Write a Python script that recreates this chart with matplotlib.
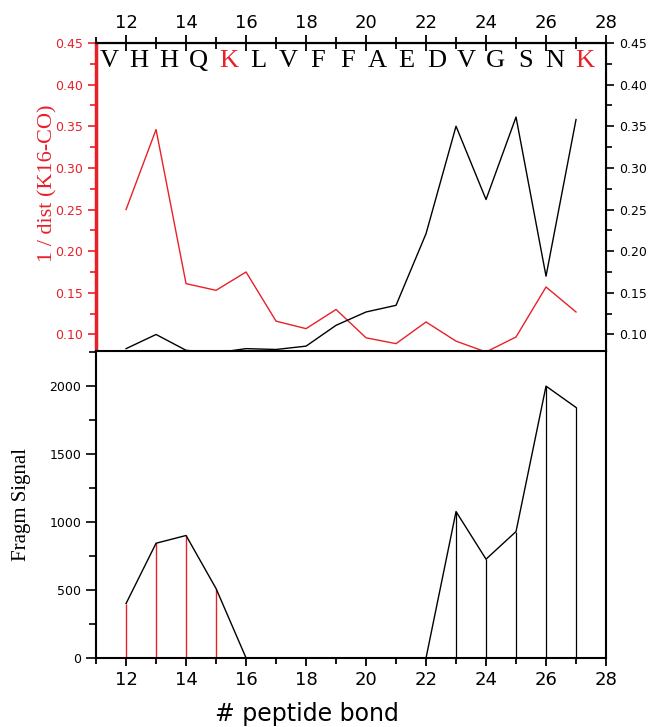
import numpy as np
import matplotlib.pyplot as plt
from matplotlib.ticker import MultipleLocator, FixedLocator

# liaisons peptidiques
bonds = [12, 13, 14, 15, 16, 17, 18, 19, 20, 21, 22, 23, 24, 25, 26, 27]

# 1 / distance (K16-CO) et (K28-CO)
inv_dist_k16 = [0.250, 0.346, 0.161, 0.153, 0.175, 0.116, 0.107, 0.130,
                0.096, 0.089, 0.115, 0.092, 0.079, 0.097, 0.157, 0.127]
inv_dist_k28 = [0.083, 0.100, 0.081, 0.078, 0.083, 0.082, 0.086, 0.111,
                0.127, 0.135, 0.221, 0.350, 0.262, 0.361, 0.170, 0.358]

# signal des fragments
fragm = [400, 843, 900, 510, 0, 0, 0, 0, 0, 0, 0, 1076, 726, 929, 1998, 1841]

# sequence
seq = ["V", "H", "H", "Q", "K", "L", "V", "F", "F", "A", "E", "D", "V", "G", "S", "N", "K"]
seq_red = [4, 16]

RED = "#e8202a"
serif = "Liberation Serif"

fig = plt.figure(figsize=(6.58, 7.27), dpi=100)
ax1 = fig.add_axes([0.146, 0.517, 0.775, 0.424])
ax2 = fig.add_axes([0.146, 0.095, 0.775, 0.422])

############################################
# panneau du haut
ax1.plot(bonds, inv_dist_k16, color=RED, lw=1.0)
ax1r = ax1.twinx()
ax1r.plot(bonds, inv_dist_k28, color="black", lw=1.0)

for a in (ax1, ax1r):
    a.set_xlim(11, 28)
    a.set_ylim(0.08, 0.45)
    a.yaxis.set_major_locator(MultipleLocator(0.05))
    a.yaxis.set_minor_locator(MultipleLocator(0.025))

# ticks du bas (vers le bas, sans labels)
ax1.xaxis.set_major_locator(MultipleLocator(2))
ax1.xaxis.set_minor_locator(MultipleLocator(1))
ax1.tick_params(axis="x", which="both", top=False, bottom=True,
                labelbottom=False, direction="out", width=1.3)
ax1.tick_params(axis="x", which="major", length=6)
ax1.tick_params(axis="x", which="minor", length=5)

# axe du haut
top = ax1.secondary_xaxis("top")
top.xaxis.set_major_locator(FixedLocator(range(12, 29, 2)))
top.xaxis.set_minor_locator(FixedLocator(range(11, 29, 2)))
top.tick_params(axis="x", which="both", direction="inout", width=1.3)
top.tick_params(axis="x", which="major", length=12, labelsize=13, pad=2)
top.tick_params(axis="x", which="minor", length=8)
top.spines["top"].set_linewidth(1.5)

ax1.tick_params(axis="y", which="both", colors=RED, labelsize=9, width=1.2)
ax1.tick_params(axis="y", which="major", length=6)
ax1.tick_params(axis="y", which="minor", length=4)
ax1.spines["left"].set_color(RED)
ax1.spines["left"].set_linewidth(2.5)
for s in ("top", "bottom"):
    ax1.spines[s].set_linewidth(1.5)
ax1.set_ylabel("1 / dist (K16-CO)", color=RED, family=serif, fontsize=16)
ax1.yaxis.set_label_coords(-0.076, 0.545)

ax1r.tick_params(axis="y", which="both", colors="black", labelsize=9, width=1.2)
ax1r.tick_params(axis="y", which="major", length=6)
ax1r.tick_params(axis="y", which="minor", length=4)
ax1r.spines["right"].set_linewidth(1.5)
ax1r.spines["left"].set_visible(False)

for i, lettre in enumerate(seq):
    xpos = 11.45 + i * 0.99
    col = RED if i in seq_red else "black"
    ax1.text(xpos, 0.428, lettre, color=col, family=serif, fontsize=19,
             ha="center", va="center")

############################################
# panneau du bas
ax2.vlines(bonds[:4], 0, fragm[:4], color=RED, lw=1.0)
ax2.vlines(bonds[11:], 0, fragm[11:], color="black", lw=0.9)
ax2.plot(bonds, fragm, color="black", lw=1.0)

ax2.set_xlim(11, 28)
ax2.set_ylim(0, 2255)
ax2.xaxis.set_major_locator(MultipleLocator(2))
ax2.xaxis.set_minor_locator(MultipleLocator(1))
ax2.yaxis.set_major_locator(MultipleLocator(500))
ax2.yaxis.set_minor_locator(MultipleLocator(250))
ax2.tick_params(axis="x", which="both", direction="out", width=1.3, labelsize=13)
ax2.tick_params(axis="x", which="major", length=6)
ax2.tick_params(axis="x", which="minor", length=4)
ax2.tick_params(axis="y", which="both", direction="out", width=1.2, labelsize=9)
ax2.tick_params(axis="y", which="major", length=7)
ax2.tick_params(axis="y", which="minor", length=5)
for s in ("left", "bottom", "right"):
    ax2.spines[s].set_linewidth(1.5)
ax2.spines["top"].set_visible(False)
ax2.set_ylabel("Fragm Signal", family=serif, fontsize=15)
ax2.yaxis.set_label_coords(-0.127, 0.5)
ax2.set_xlabel("# peptide bond", fontsize=17)
ax2.xaxis.set_label_coords(0.414, -0.145)

fig.savefig("out.png", dpi=100)
